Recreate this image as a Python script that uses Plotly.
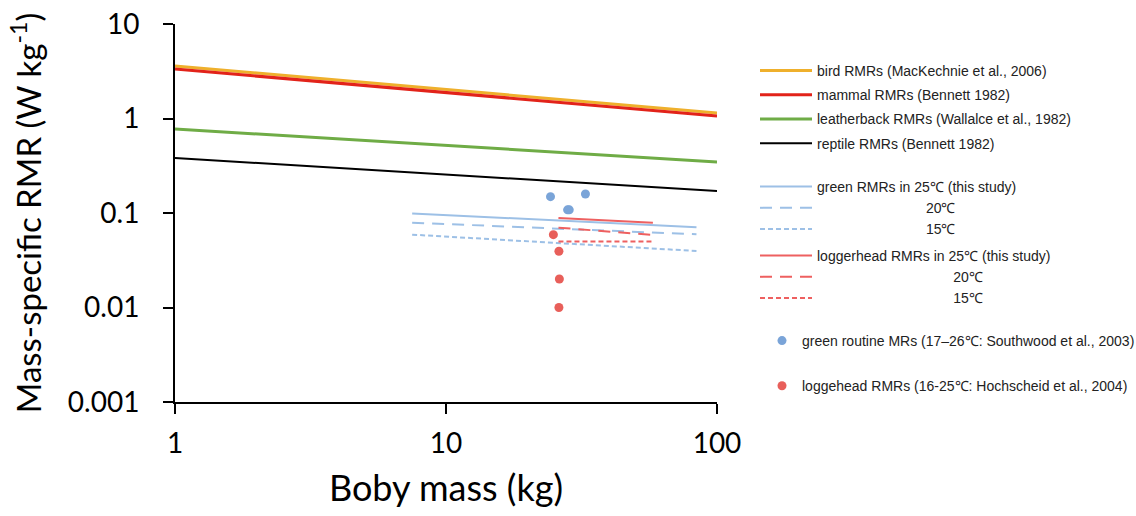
import plotly.graph_objects as go

# ---------------- data ----------------
mass_range = [1, 100]
bird_rmr = [3.6, 1.14]
mammal_rmr = [3.34, 1.06]
leatherback_rmr = [0.774, 0.347]
reptile_rmr = [0.382, 0.171]

green_mass = [7.5, 84]
green_25 = [0.099, 0.0706]
green_20 = [0.079, 0.0595]
green_15 = [0.059, 0.0396]

logger_mass = [26, 58]
logger_25 = [0.0885, 0.079]
logger_20 = [0.070, 0.0585]
logger_15 = [0.050, 0.050]

green_pt_mass = [24.3, 32.7, 28.1, 28.5]
green_pt_rmr = [0.149, 0.159, 0.108, 0.108]

red_pt_mass = [24.9, 26.1, 26.2, 26.1]
red_pt_rmr = [0.059, 0.0394, 0.020, 0.010]

x_tickvals = [1, 10, 100]
x_ticktext = ["1", "10", "100"]
y_tickvals = [0.001, 0.01, 0.1, 1, 10]
y_ticktext = ["0.001", "0.01", "0.1", "1", "10"]

NB = "\u00a0"
green_pad = NB * 28
logger_pad = NB * 35

W, H = 1136, 516

fig = go.Figure()

def line(x, y, name, color, width, dash="solid", legend="legend", group=None):
    fig.add_trace(go.Scatter(x=x, y=y, mode="lines", name=name,
                             line=dict(color=color, width=width, dash=dash),
                             legend=legend, legendgroup=group or name))

line(mass_range, bird_rmr, "bird RMRs (MacKechnie et al., 2006)", "#EFB02C", 3)
line(mass_range, mammal_rmr, "mammal RMRs (Bennett 1982)", "#E2231A", 3)
line(mass_range, leatherback_rmr, "leatherback RMRs (Wallalce et al., 1982)", "#6FAC46", 3)
line(mass_range, reptile_rmr, "reptile RMRs (Bennett 1982)", "#000000", 2)

line(green_mass, green_25, "green RMRs in 25℃ (this study)", "#9DC0E6", 2, "solid", "legend2", "g")
line(green_mass, green_20, green_pad + "20℃", "#9DC0E6", 2, "12px,8px", "legend2", "g")
line(green_mass, green_15, green_pad + "15℃", "#9DC0E6", 2, "5px,3px", "legend2", "g")

line(logger_mass, logger_25, "loggerhead RMRs in 25℃ (this study)", "#EE6060", 2, "solid", "legend3", "l")
line(logger_mass, logger_20, logger_pad + "20℃", "#EE6060", 2, "12px,8px", "legend3", "l")
line(logger_mass, logger_15, logger_pad + "15℃", "#EE6060", 2, "5px,3px", "legend3", "l")

fig.add_trace(go.Scatter(x=green_pt_mass, y=green_pt_rmr, mode="markers",
                         name="green routine MRs (17–26℃: Southwood et al., 2003)",
                         marker=dict(color="#7AA4D8", size=9), legend="legend4",
                         legendgroup="gp"))
fig.add_trace(go.Scatter(x=red_pt_mass, y=red_pt_rmr, mode="markers",
                         name="loggehead RMRs (16-25℃: Hochscheid et al., 2004)",
                         marker=dict(color="#E85F5A", size=9), legend="legend4",
                         legendgroup="rp"))

leg_font = dict(family="Liberation Sans, Arial, sans-serif", size=14, color="#222222")
common = dict(font=leg_font, bgcolor="rgba(0,0,0,0)", borderwidth=0,
              xanchor="left", yanchor="top", xref="container", yref="container")

fig.update_layout(
    width=W, height=H,
    margin=dict(l=175, r=419, t=24, b=114, autoexpand=False),
    paper_bgcolor="white", plot_bgcolor="white",
    font=dict(family="Lato, sans-serif", color="#000000"),
    legend=dict(x=755 / W, y=1 - 55 / H, tracegroupgap=3, itemwidth=52, **common),
    legend2=dict(x=755 / W, y=1 - 171 / H, tracegroupgap=0, itemwidth=52, **common),
    legend3=dict(x=755 / W, y=1 - 240 / H, tracegroupgap=0, itemwidth=52, **common),
    legend4=dict(x=762 / W, y=1 - 325 / H, tracegroupgap=24, itemwidth=30, **common),
    showlegend=True,
)

fig.update_xaxes(type="log", range=[0, 2], tickvals=x_tickvals, ticktext=x_ticktext,
                 showgrid=False, zeroline=False, showline=True, linecolor="black",
                 linewidth=2, ticks="outside", ticklen=10, tickwidth=2, tickcolor="black",
                 tickfont=dict(size=28, family="Lato, sans-serif"), ticklabelstandoff=5,
                 title=dict(text="Boby mass (kg)", font=dict(size=36, family="Lato, sans-serif"),
                            standoff=18),
                 automargin=False)
fig.update_yaxes(type="log", range=[-3, 1], tickvals=y_tickvals, ticktext=y_ticktext,
                 showgrid=False, zeroline=False, showline=True, linecolor="black",
                 linewidth=2, ticks="outside", ticklen=10, tickwidth=2, tickcolor="black",
                 tickfont=dict(size=28, family="Lato, sans-serif"), ticklabelstandoff=18,
                 title=dict(text="Mass-specific RMR (W kg<sup>-1</sup>)",
                            font=dict(size=33, family="Lato, sans-serif"), standoff=16),
                 automargin=False)

fig.write_html("out.html")
